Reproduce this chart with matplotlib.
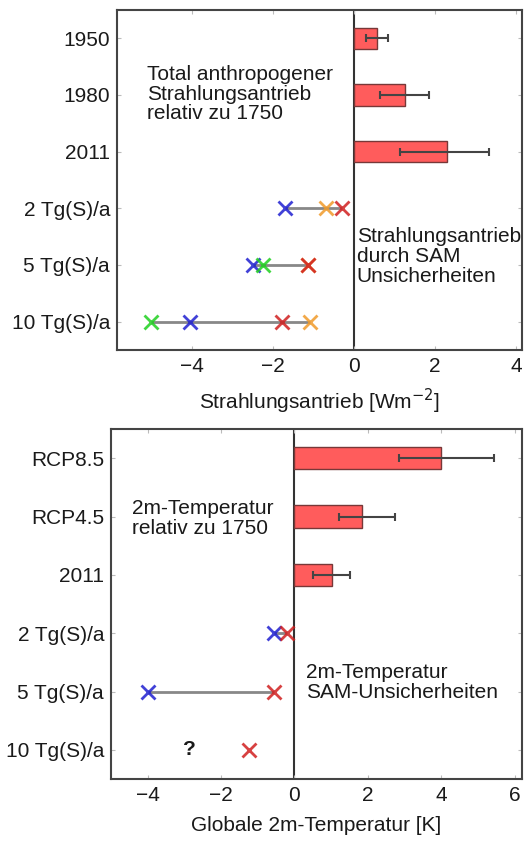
import numpy as np
import matplotlib
matplotlib.use("Agg")
import matplotlib.pyplot as plt

plt.rcParams['font.family'] = ['Liberation Sans', 'DejaVu Sans']

# ---------------- data: top panel (radiative forcing) ----------------
top_labels = ["1950", "1980", "2011", "2 Tg(S)/a", "5 Tg(S)/a", "10 Tg(S)/a"]
rf_bar_labels = ["1950", "1980", "2011"]
rf_bar_values = [0.57, 1.25, 2.29]
rf_bar_low = [0.29, 0.64, 1.13]
rf_bar_high = [0.85, 1.86, 3.33]
sam_top_labels = ["2 Tg(S)/a", "5 Tg(S)/a", "10 Tg(S)/a"]
rf_blue = [-1.70, -2.50, -4.05]
rf_green = [np.nan, -2.24, -5.00]
rf_red = [-0.30, -1.13, -1.78]
rf_orange = [-0.69, -1.13, -1.09]

# ---------------- data: bottom panel (2m temperature) ----------------
bot_labels = ["RCP8.5", "RCP4.5", "2011", "2 Tg(S)/a", "5 Tg(S)/a", "10 Tg(S)/a"]
t_bar_labels = ["RCP8.5", "RCP4.5", "2011"]
t_bar_values = [4.0, 1.83, 1.03]
t_bar_low = [2.85, 1.22, 0.50]
t_bar_high = [5.44, 2.74, 1.52]
sam_bot_labels = ["2 Tg(S)/a", "5 Tg(S)/a", "10 Tg(S)/a"]
t_blue = [-0.57, -3.98, np.nan]
t_red = [-0.20, -0.57, -1.24]
unknown_label = "10 Tg(S)/a"
unknown_x = -2.87

C_BLUE = "#1f1fd0"
C_GREEN = "#1fd01f"
C_RED = "#d02020"
C_ORANGE = "#f09a2a"
BAR_C = "#ff5c5c"
SPINE_C = "#444444"
TXT_C = "#1a1a1a"
FS = 15
LS = 1.05

fig = plt.figure(figsize=(5.28, 8.41), dpi=100)
ax1 = fig.add_axes([117/528, 1-350/841, (522-117)/528, (350-10)/841])
ax2 = fig.add_axes([111/528, 1-779/841, (522-111)/528, (779-429)/841])


def style(ax, labels):
    ax.set_yticks(range(len(labels)))
    ax.set_yticklabels(labels, fontsize=FS, color=TXT_C)
    ax.set_ylim(len(labels) - 0.5, -0.5)
    ax.tick_params(axis='both', direction='in', length=3, color="#bbbbbb",
                   top=True, right=True, labelsize=FS, labelcolor=TXT_C, pad=5)
    for s in ax.spines.values():
        s.set_color(SPINE_C)
        s.set_linewidth(1.5)
    ax.axvline(0, color="#333333", lw=1.5, zorder=1)


def draw_bars(ax, labels, cats, vals, lo, hi):
    pos = [labels.index(c) for c in cats]
    vals = np.array(vals); lo = np.array(lo); hi = np.array(hi)
    ax.barh(pos, vals, height=0.38, color=BAR_C, edgecolor="#773838", lw=1.0, zorder=2)
    ax.errorbar(vals, pos, xerr=[vals - lo, hi - vals], fmt='none', ecolor="#444444",
                elinewidth=1.5, capsize=3, capthick=1.5, zorder=3)


def draw_sam(ax, labels, cats, series):
    pos = np.array([labels.index(c) for c in cats])
    arr = np.array([s for s, _ in series], dtype=float)
    mn = np.nanmin(arr, axis=0); mx = np.nanmax(arr, axis=0)
    for p, a, b in zip(pos, mn, mx):
        if a != b:
            ax.plot([a, b], [p, p], color="#888888", lw=2, zorder=3, solid_capstyle='butt')
    for s, c in series:
        ax.plot(s, pos, ls='none', marker='x', ms=9.5, mew=2.0, color=c, alpha=0.85, zorder=4)


# ---- top ----
style(ax1, top_labels)
ax1.set_xlim(-5.85, 4.15)
ax1.set_xticks([-4, -2, 0, 2, 4])
ax1.set_xticklabels(["\u22124", "\u22122", "0", "2", "4"])
draw_bars(ax1, top_labels, rf_bar_labels, rf_bar_values, rf_bar_low, rf_bar_high)
draw_sam(ax1, top_labels, sam_top_labels,
         [(rf_blue, C_BLUE), (rf_green, C_GREEN), (rf_orange, C_ORANGE), (rf_red, C_RED)])
ax1.set_xlabel("Strahlungsantrieb [Wm$^{-2}$]", fontsize=FS, color=TXT_C, labelpad=8)
ax1.text(-5.1, 0.47, "Total anthropogener\nStrahlungsantrieb\nrelativ zu 1750",
         fontsize=FS, va='top', ha='left', linespacing=LS, color=TXT_C)
ax1.text(0.07, 3.33, "Strahlungsantrieb\ndurch SAM\nUnsicherheiten",
         fontsize=FS, va='top', ha='left', linespacing=LS, color=TXT_C)

# ---- bottom ----
style(ax2, bot_labels)
ax2.set_xlim(-5.0, 6.2)
ax2.set_xticks([-4, -2, 0, 2, 4, 6])
ax2.set_xticklabels(["\u22124", "\u22122", "0", "2", "4", "6"])
draw_bars(ax2, bot_labels, t_bar_labels, t_bar_values, t_bar_low, t_bar_high)
draw_sam(ax2, bot_labels, sam_bot_labels, [(t_blue, C_BLUE), (t_red, C_RED)])
ax2.text(unknown_x, bot_labels.index(unknown_label), "?", fontsize=FS, ha='center',
         va='center', color=TXT_C, fontweight='bold')
ax2.set_xlabel("Globale 2m-Temperatur [K]", fontsize=FS, color=TXT_C, labelpad=8)
ax2.text(-4.43, 0.70, "2m-Temperatur\nrelativ zu 1750",
         fontsize=FS, va='top', ha='left', linespacing=LS, color=TXT_C)
ax2.text(0.32, 3.52, "2m-Temperatur\nSAM-Unsicherheiten",
         fontsize=FS, va='top', ha='left', linespacing=LS, color=TXT_C)

fig.savefig("out.png", dpi=100)
